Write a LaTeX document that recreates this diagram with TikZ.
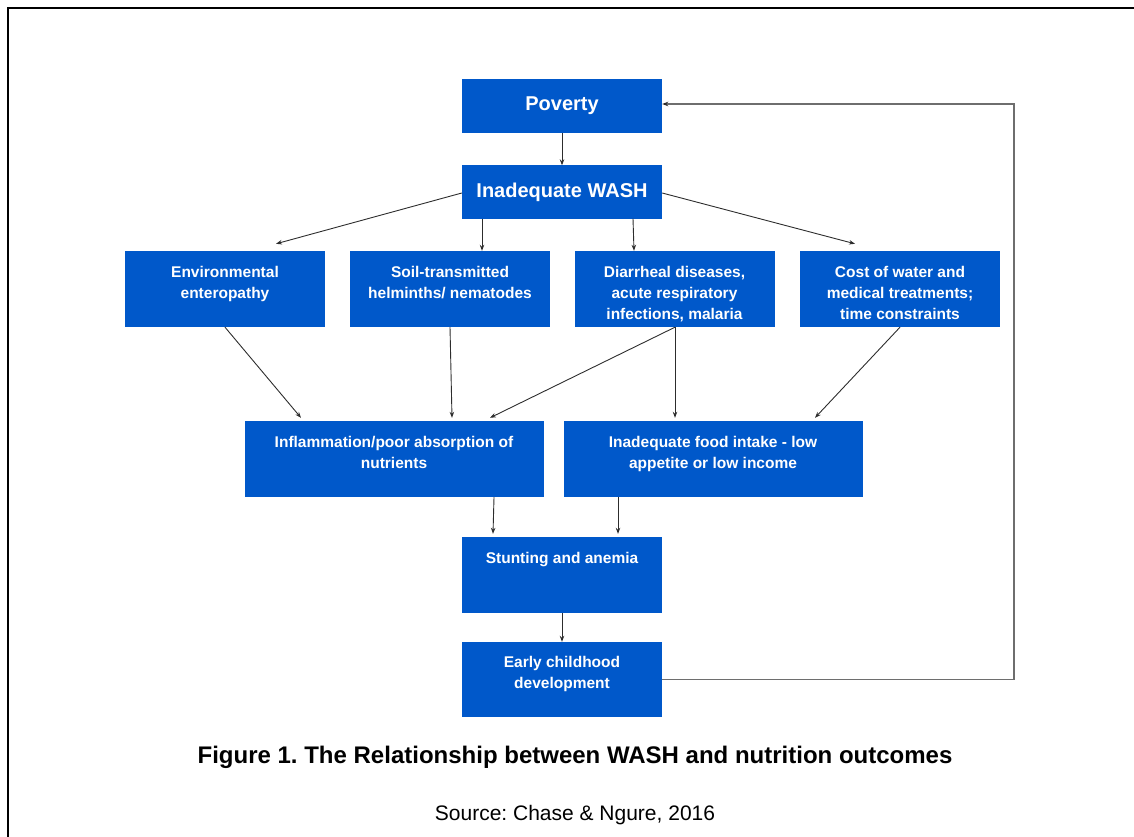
\documentclass[tikz,border=0pt]{standalone}
\usepackage{fontspec}
\setmainfont{Liberation Sans}
\usetikzlibrary{arrows.meta,calc}
\definecolor{boxblue}{RGB}{0,88,202}
\definecolor{arrowgray}{RGB}{45,45,45}
\definecolor{loopgray}{RGB}{110,110,110}
\frenchspacing
\begin{document}
\begin{tikzpicture}[x=1pt,y=-1pt,
  bluebox/.style={draw=none,fill=boxblue,minimum width=200pt,inner sep=0pt},
  widebox/.style={bluebox,minimum width=299pt,minimum height=76pt},
  tallbox/.style={bluebox,minimum height=76pt},
  boxtext/.style={text=white,font=\fontsize{15.5}{21}\selectfont\bfseries,align=center,inner sep=0pt,anchor=north},
  bigtext/.style={text=white,font=\fontsize{20}{24}\selectfont\bfseries,inner sep=0pt},
  arr/.style={draw=arrowgray,line width=0.9pt,-{Stealth[length=6pt,width=4.5pt]}},
  loop/.style={draw=loopgray,line width=1.6pt,-{Stealth[length=6pt,width=4.5pt,color=arrowgray]}}
]
\useasboundingbox (0,0) rectangle (1134,837);
% frame
\draw[line width=2.5pt,line cap=rect] (8,837) -- (8,8) -- (1134,8);

% boxes
\node[bluebox,minimum height=54pt] (poverty) at (562,106) {};
\node[bigtext] (povertyt) at (poverty.center) {Poverty};
\node[bluebox,minimum height=53pt] (wash) at (562,192) {};
\node[bigtext] (washt) at (wash.center) {Inadequate WASH};

\node[tallbox] (env) at (225,289) {};
\node[boxtext] (envt) at ($(env.north)+(0,15)$) {Environmental\\enteropathy};
\node[tallbox] (soil) at (450,289) {};
\node[boxtext] (soilt) at ($(soil.north)+(0,15)$) {Soil-transmitted\\helminths/ nematodes};
\node[tallbox] (diar) at (674.5,289) {};
\node[boxtext] (diart) at ($(diar.north)+(0,15)$) {Diarrheal diseases,\\acute respiratory\\infections, malaria};
\node[tallbox] (cost) at (900,289) {};
\node[boxtext] (costt) at ($(cost.north)+(0,15)$) {Cost of water and\\medical treatments;\\time constraints};

\node[widebox] (infl) at (394,459) {};
\node[boxtext] (inflt) at ($(infl.north)+(0,15)$) {Inflammation/poor absorption of\\nutrients};
\node[widebox] (food) at (713,459) {};
\node[boxtext] (foodt) at ($(food.north)+(0,15)$) {Inadequate food intake - low\\appetite or low income};

\node[tallbox] (stunt) at (562,575) {};
\node[boxtext] (stuntt) at ($(stunt.north)+(0,15)$) {Stunting and anemia};
\node[bluebox,minimum height=75pt] (early) at (562,679.5) {};
\node[boxtext] (earlyt) at ($(early.north)+(0,14)$) {Early childhood\\development};

% connectors
\draw[arr] (poverty.south) -- (wash.north);
\draw[arr] ($(wash.west)+(0,1)$) -- ($(env.north)+(51,-7)$);
\draw[arr] ($(wash.south)+(-80,0)$) -- ($(soil.north)+(32,0)$);
\draw[arr] ($(wash.south)+(71,0)$) -- ($(diar.north)+(-40.5,0)$);
\draw[arr] ($(wash.east)+(0,1)$) -- ($(cost.north)+(-45,-7)$);

\draw[arr] (env.south) -- ($(infl.north)+(-93,-3)$);
\draw[arr] (soil.south) -- ($(infl.north)+(58,-3)$);
\draw[arr] ($(diar.south)+(0.5,0)$) -- ($(infl.north)+(96,-3)$);
\draw[arr] ($(diar.south)+(0.5,0)$) -- ($(food.north)+(-38,-3)$);
\draw[arr] (cost.south) -- ($(food.north)+(102,-3)$);

\draw[arr] ($(infl.south)+(100,0)$) -- ($(stunt.north)+(-69,-3)$);
\draw[arr] ($(food.south)+(-95,0)$) -- ($(stunt.north)+(56,-3)$);
\draw[arr] (stunt.south) -- (early.north);

\coordinate (loopbot) at (1014,679.5);
\coordinate (looptop) at (1014,104);
\draw[loop] (early.east) -- (loopbot) -- (looptop) -- ($(poverty.east)+(0,-2)$);

% caption
\node[font=\fontsize{24}{26}\selectfont\bfseries,inner sep=0pt] (caption) at (575,757) {Figure 1. The Relationship between WASH and nutrition outcomes};
\node[font=\fontsize{21}{24}\selectfont,inner sep=0pt] (source) at (575,815) {Source: Chase \& Ngure, 2016};
\end{tikzpicture}
\end{document}
